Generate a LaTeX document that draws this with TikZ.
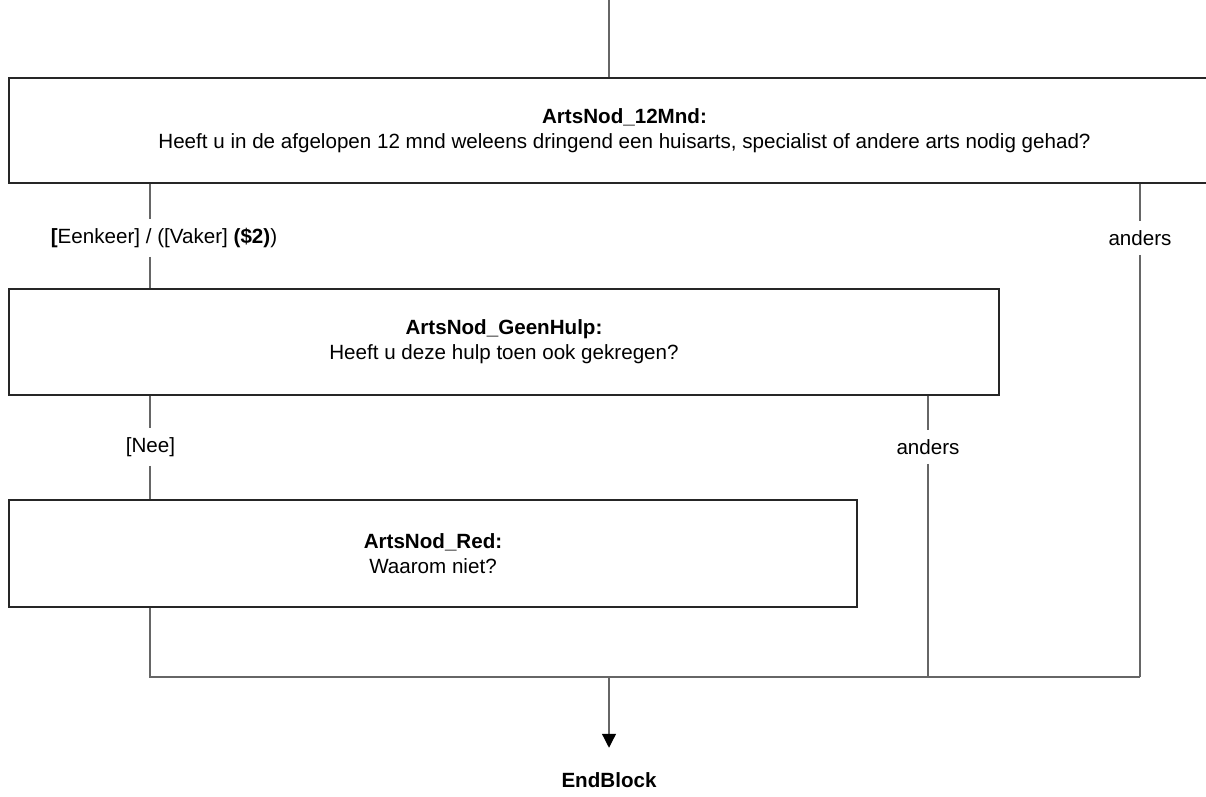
\documentclass[tikz,border=0pt]{standalone}
\usepackage{fontspec}
\setmainfont{Liberation Sans}
\usetikzlibrary{arrows.meta}

\begin{document}
\begin{tikzpicture}[x=1pt,y=-1pt,
  qbox/.style={rectangle, draw=black!85, line width=1.2pt, align=center, inner sep=0pt, font=\fontsize{20.6}{25}\selectfont},
  cond/.style={fill=white, inner xsep=2pt, inner ysep=9pt, font=\fontsize{20.6}{24}\selectfont},
  flow/.style={draw=black!60, line width=1.3pt}]
\useasboundingbox (0,0) rectangle (1206,796);
\clip (0,0) rectangle (1206,796);

% vragen
\node[qbox, minimum width=1231pt, minimum height=105pt] (q1) at (624.5,130.5) {\textbf{ArtsNod\_12Mnd:}\\Heeft u in de afgelopen 12 mnd weleens dringend een huisarts, specialist of andere arts nodig gehad?};
\node[qbox, minimum width=990pt, minimum height=106pt] (q2) at (504,342) {\textbf{ArtsNod\_GeenHulp:}\\Heeft u deze hulp toen ook gekregen?};
\node[qbox, minimum width=848pt, minimum height=107pt] (q3) at (433,553.5) {\textbf{ArtsNod\_Red:}\\Waarom niet?};

% condities
\node[cond] (eenkeer) at (164,238) {\textbf{[}Eenkeer] / ([Vaker] \textbf{(\$2)})};
\node[cond] (anders1) at (1140,238) {anders};
\node[cond] (nee) at (150.5,447) {[Nee]};
\node[cond] (anders2) at (928,447) {anders};
\node[inner xsep=0pt, inner ysep=25pt, font=\fontsize{20.6}{24}\selectfont\bfseries] (endb) at (609,780.5) {EndBlock};

\coordinate (start) at (609,0);
\coordinate (j1) at (150,677);
\coordinate (j2) at (928,677);
\coordinate (j3) at (1140,677);
\coordinate (mid) at (609,677);

% verbindingen
\draw[flow] (start) -- (start |- q1.north);
\draw[flow] (q1.south -| j1) -- (eenkeer.north -| j1);
\draw[flow] (eenkeer.south -| j1) -- (q2.north -| j1);
\draw[flow] (q1.south -| anders1) -- (anders1.north);
\draw[flow] (anders1.south) -- (j3);
\draw[flow] (q2.south -| j1) -- (nee.north -| j1);
\draw[flow] (nee.south -| j1) -- (q3.north -| j1);
\draw[flow] (q2.south -| anders2) -- (anders2.north);
\draw[flow] (anders2.south) -- (j2);
\draw[flow] (q3.south -| j1) -- (j1) -- (j3);
\draw[flow, -{Triangle[width=14pt,length=14pt,color=black]}] (mid) -- (endb.north);
\end{tikzpicture}
\end{document}
